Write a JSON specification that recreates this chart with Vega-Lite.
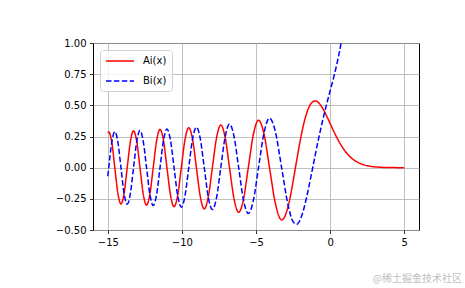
{
  "$schema": "https://vega.github.io/schema/vega-lite/v6.json",
  "width": 326,
  "height": 187,
  "autosize": {"type": "none"},
  "padding": {"left": 93, "top": 43, "right": 46, "bottom": 58},
  "title": {"text": "@稀土掘金技术社区", "orient": "bottom", "anchor": "end", "dx": 43, "offset": 27, "font": "Noto Sans CJK SC", "fontSize": 10, "fontWeight": "normal", "color": "#c0c0c0"},
  "config": {
    "font": "DejaVu Sans",
    "view": {"stroke": "black", "strokeWidth": 1},
    "axis": {"domain": false, "tickColor": "black", "tickSize": 3.5, "tickWidth": 0.8, "labelFontSize": 10, "labelColor": "black", "labelPadding": 3.5, "grid": true, "gridColor": "#b0b0b0", "gridWidth": 0.8, "title": null}
  },
  "data": {"values": [
    {"x": -15, "y": 0.2782, "s": "Ai(x)"},
    {"x": -14.937, "y": 0.287, "s": "Ai(x)"},
    {"x": -14.7332, "y": 0.2036, "s": "Ai(x)"},
    {"x": -14.5278, "y": 0, "s": "Ai(x)"},
    {"x": -14.321, "y": -0.2051, "s": "Ai(x)"},
    {"x": -14.1128, "y": -0.2911, "s": "Ai(x)"},
    {"x": -13.9029, "y": -0.2066, "s": "Ai(x)"},
    {"x": -13.6915, "y": 0, "s": "Ai(x)"},
    {"x": -13.4784, "y": 0.2082, "s": "Ai(x)"},
    {"x": -13.2637, "y": 0.2956, "s": "Ai(x)"},
    {"x": -13.0471, "y": 0.2099, "s": "Ai(x)"},
    {"x": -12.8288, "y": 0, "s": "Ai(x)"},
    {"x": -12.6086, "y": -0.2117, "s": "Ai(x)"},
    {"x": -12.3864, "y": -0.3007, "s": "Ai(x)"},
    {"x": -12.1622, "y": -0.2136, "s": "Ai(x)"},
    {"x": -11.936, "y": 0, "s": "Ai(x)"},
    {"x": -11.7076, "y": 0.2157, "s": "Ai(x)"},
    {"x": -11.477, "y": 0.3065, "s": "Ai(x)"},
    {"x": -11.244, "y": 0.2179, "s": "Ai(x)"},
    {"x": -11.0085, "y": 0, "s": "Ai(x)"},
    {"x": -10.7705, "y": -0.2202, "s": "Ai(x)"},
    {"x": -10.5299, "y": -0.3132, "s": "Ai(x)"},
    {"x": -10.2865, "y": -0.2228, "s": "Ai(x)"},
    {"x": -10.0402, "y": 0, "s": "Ai(x)"},
    {"x": -9.7908, "y": 0.2255, "s": "Ai(x)"},
    {"x": -9.5382, "y": 0.321, "s": "Ai(x)"},
    {"x": -9.2822, "y": 0.2286, "s": "Ai(x)"},
    {"x": -9.0227, "y": 0, "s": "Ai(x)"},
    {"x": -8.7593, "y": -0.2319, "s": "Ai(x)"},
    {"x": -8.492, "y": -0.3305, "s": "Ai(x)"},
    {"x": -8.2203, "y": -0.2356, "s": "Ai(x)"},
    {"x": -7.9441, "y": 0, "s": "Ai(x)"},
    {"x": -7.6631, "y": 0.2398, "s": "Ai(x)"},
    {"x": -7.3768, "y": 0.3423, "s": "Ai(x)"},
    {"x": -7.0848, "y": 0.2445, "s": "Ai(x)"},
    {"x": -6.7867, "y": 0, "s": "Ai(x)"},
    {"x": -6.4819, "y": -0.25, "s": "Ai(x)"},
    {"x": -6.1699, "y": -0.358, "s": "Ai(x)"},
    {"x": -5.8497, "y": -0.2565, "s": "Ai(x)"},
    {"x": -5.5206, "y": 0, "s": "Ai(x)"},
    {"x": -5.1814, "y": 0.2644, "s": "Ai(x)"},
    {"x": -4.8308, "y": 0.3806, "s": "Ai(x)"},
    {"x": -4.4671, "y": 0.2744, "s": "Ai(x)"},
    {"x": -4.088, "y": 0, "s": "Ai(x)"},
    {"x": -3.6908, "y": -0.2878, "s": "Ai(x)"},
    {"x": -3.2714, "y": -0.4195, "s": "Ai(x)"},
    {"x": -2.8239, "y": -0.3077, "s": "Ai(x)"},
    {"x": -2.5, "y": -0.1123, "s": "Ai(x)"},
    {"x": -2.25, "y": 0.0616, "s": "Ai(x)"},
    {"x": -2, "y": 0.2274, "s": "Ai(x)"},
    {"x": -1.75, "y": 0.3655, "s": "Ai(x)"},
    {"x": -1.5, "y": 0.4643, "s": "Ai(x)"},
    {"x": -1.25, "y": 0.52, "s": "Ai(x)"},
    {"x": -1, "y": 0.5356, "s": "Ai(x)"},
    {"x": -0.75, "y": 0.5178, "s": "Ai(x)"},
    {"x": -0.5, "y": 0.4757, "s": "Ai(x)"},
    {"x": -0.25, "y": 0.4187, "s": "Ai(x)"},
    {"x": 0, "y": 0.355, "s": "Ai(x)"},
    {"x": 0.25, "y": 0.2912, "s": "Ai(x)"},
    {"x": 0.5, "y": 0.2317, "s": "Ai(x)"},
    {"x": 0.75, "y": 0.1793, "s": "Ai(x)"},
    {"x": 1, "y": 0.1353, "s": "Ai(x)"},
    {"x": 1.25, "y": 0.0996, "s": "Ai(x)"},
    {"x": 1.5, "y": 0.0717, "s": "Ai(x)"},
    {"x": 1.75, "y": 0.0508, "s": "Ai(x)"},
    {"x": 2, "y": 0.0349, "s": "Ai(x)"},
    {"x": 2.5, "y": 0.0157, "s": "Ai(x)"},
    {"x": 3, "y": 0.0066, "s": "Ai(x)"},
    {"x": 3.5, "y": 0.0026, "s": "Ai(x)"},
    {"x": 4, "y": 0.00095, "s": "Ai(x)"},
    {"x": 4.5, "y": 0.00033, "s": "Ai(x)"},
    {"x": 5, "y": 0.00011, "s": "Ai(x)"},
    {"x": -15, "y": -0.0691, "s": "Bi(x)"},
    {"x": -14.937, "y": 0, "s": "Bi(x)"},
    {"x": -14.7332, "y": 0.2036, "s": "Bi(x)"},
    {"x": -14.5278, "y": 0.289, "s": "Bi(x)"},
    {"x": -14.321, "y": 0.2051, "s": "Bi(x)"},
    {"x": -14.1128, "y": 0, "s": "Bi(x)"},
    {"x": -13.9029, "y": -0.2066, "s": "Bi(x)"},
    {"x": -13.6915, "y": -0.2933, "s": "Bi(x)"},
    {"x": -13.4784, "y": -0.2082, "s": "Bi(x)"},
    {"x": -13.2637, "y": 0, "s": "Bi(x)"},
    {"x": -13.0471, "y": 0.2099, "s": "Bi(x)"},
    {"x": -12.8288, "y": 0.2981, "s": "Bi(x)"},
    {"x": -12.6086, "y": 0.2117, "s": "Bi(x)"},
    {"x": -12.3864, "y": 0, "s": "Bi(x)"},
    {"x": -12.1622, "y": -0.2136, "s": "Bi(x)"},
    {"x": -11.936, "y": -0.3035, "s": "Bi(x)"},
    {"x": -11.7076, "y": -0.2157, "s": "Bi(x)"},
    {"x": -11.477, "y": 0, "s": "Bi(x)"},
    {"x": -11.244, "y": 0.2179, "s": "Bi(x)"},
    {"x": -11.0085, "y": 0.3097, "s": "Bi(x)"},
    {"x": -10.7705, "y": 0.2202, "s": "Bi(x)"},
    {"x": -10.5299, "y": 0, "s": "Bi(x)"},
    {"x": -10.2865, "y": -0.2228, "s": "Bi(x)"},
    {"x": -10.0402, "y": -0.317, "s": "Bi(x)"},
    {"x": -9.7908, "y": -0.2255, "s": "Bi(x)"},
    {"x": -9.5382, "y": 0, "s": "Bi(x)"},
    {"x": -9.2822, "y": 0.2286, "s": "Bi(x)"},
    {"x": -9.0227, "y": 0.3255, "s": "Bi(x)"},
    {"x": -8.7593, "y": 0.2319, "s": "Bi(x)"},
    {"x": -8.492, "y": 0, "s": "Bi(x)"},
    {"x": -8.2203, "y": -0.2356, "s": "Bi(x)"},
    {"x": -7.9441, "y": -0.3361, "s": "Bi(x)"},
    {"x": -7.6631, "y": -0.2398, "s": "Bi(x)"},
    {"x": -7.3768, "y": 0, "s": "Bi(x)"},
    {"x": -7.0848, "y": 0.2445, "s": "Bi(x)"},
    {"x": -6.7867, "y": 0.3496, "s": "Bi(x)"},
    {"x": -6.4819, "y": 0.25, "s": "Bi(x)"},
    {"x": -6.1699, "y": 0, "s": "Bi(x)"},
    {"x": -5.8497, "y": -0.2565, "s": "Bi(x)"},
    {"x": -5.5206, "y": -0.3681, "s": "Bi(x)"},
    {"x": -5.1814, "y": -0.2644, "s": "Bi(x)"},
    {"x": -4.8308, "y": 0, "s": "Bi(x)"},
    {"x": -4.4671, "y": 0.2744, "s": "Bi(x)"},
    {"x": -4.088, "y": 0.3968, "s": "Bi(x)"},
    {"x": -3.6908, "y": 0.2878, "s": "Bi(x)"},
    {"x": -3.2714, "y": 0, "s": "Bi(x)"},
    {"x": -2.8239, "y": -0.3077, "s": "Bi(x)"},
    {"x": -2.5, "y": -0.4324, "s": "Bi(x)"},
    {"x": -2.25, "y": -0.4539, "s": "Bi(x)"},
    {"x": -2, "y": -0.4123, "s": "Bi(x)"},
    {"x": -1.75, "y": -0.3195, "s": "Bi(x)"},
    {"x": -1.5, "y": -0.1918, "s": "Bi(x)"},
    {"x": -1.25, "y": -0.0459, "s": "Bi(x)"},
    {"x": -1, "y": 0.104, "s": "Bi(x)"},
    {"x": -0.75, "y": 0.2478, "s": "Bi(x)"},
    {"x": -0.5, "y": 0.3804, "s": "Bi(x)"},
    {"x": -0.25, "y": 0.5014, "s": "Bi(x)"},
    {"x": 0, "y": 0.6149, "s": "Bi(x)"},
    {"x": 0.25, "y": 0.7287, "s": "Bi(x)"},
    {"x": 0.5, "y": 0.8543, "s": "Bi(x)"},
    {"x": 0.75, "y": 1.0069, "s": "Bi(x)"},
    {"x": 1, "y": 1.2074, "s": "Bi(x)"}
  ]},
  "mark": {"type": "line", "clip": true, "strokeWidth": 1.5, "interpolate": "monotone"},
  "encoding": {
    "x": {"field": "x", "type": "quantitative", "scale": {"domain": [-16, 6], "nice": false, "zero": false}, "axis": {"values": [-15, -10, -5, 0, 5]}},
    "y": {"field": "y", "type": "quantitative", "scale": {"domain": [-0.5, 1], "nice": false}, "axis": {"values": [-0.5, -0.25, 0, 0.25, 0.5, 0.75, 1], "format": ".2f"}},
    "color": {"field": "s", "type": "nominal", "scale": {"domain": ["Ai(x)", "Bi(x)"], "range": ["#ff0000", "#0000ff"]},
      "legend": {"title": null, "orient": "top-left", "offset": 7, "padding": 5, "strokeColor": "#d0d0d0", "cornerRadius": 3, "fillColor": "rgba(255,255,255,0.8)", "symbolType": "M-1,0H4.6", "symbolSize": 100, "symbolStrokeWidth": 1.5, "labelFontSize": 10, "labelColor": "black", "labelOffset": 26, "rowPadding": 9}},
    "strokeDash": {"field": "s", "type": "nominal", "scale": {"domain": ["Ai(x)", "Bi(x)"], "range": [[1, 0], [5.5, 2.4]]},
      "legend": {"title": null, "orient": "top-left", "offset": 7, "padding": 5, "strokeColor": "#d0d0d0", "cornerRadius": 3, "fillColor": "rgba(255,255,255,0.8)", "symbolType": "M-1,0H4.6", "symbolSize": 100, "symbolStrokeWidth": 1.5, "labelFontSize": 10, "labelColor": "black", "labelOffset": 26, "rowPadding": 9}}
  }
}
